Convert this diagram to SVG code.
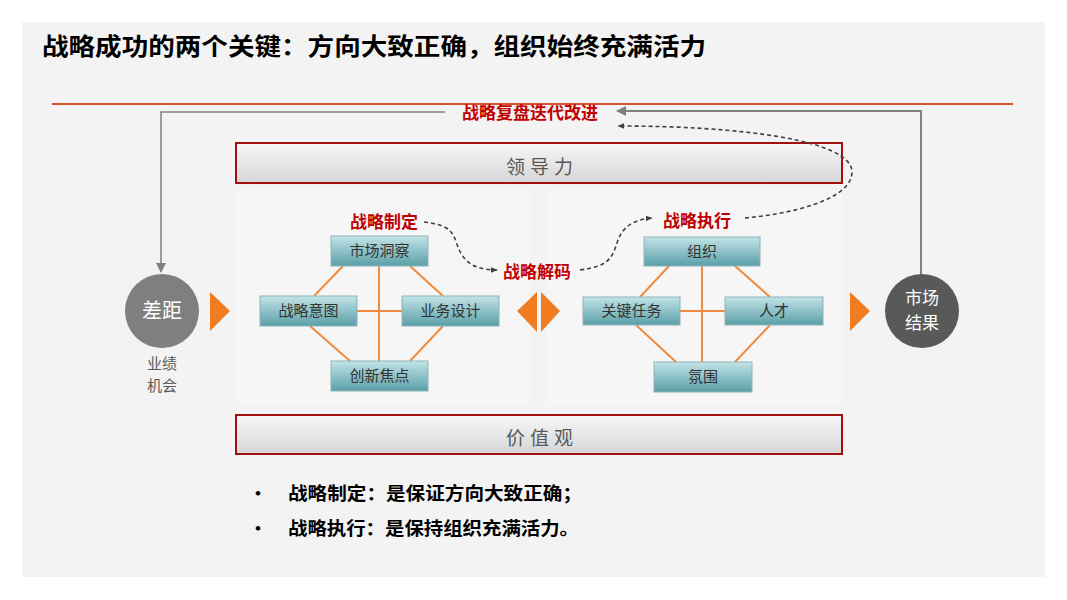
<svg xmlns="http://www.w3.org/2000/svg" width="1067" height="600" viewBox="0 0 1067 600">
<defs>
<linearGradient id="teal" x1="0" y1="0" x2="0" y2="1">
<stop offset="0" stop-color="#c2e4e7"/>
<stop offset="1" stop-color="#5a9fa8"/>
</linearGradient>
<linearGradient id="bar" x1="0" y1="0" x2="0" y2="1">
<stop offset="0" stop-color="#f7f7f7"/>
<stop offset="1" stop-color="#d6d6d6"/>
</linearGradient>
<marker id="ag" viewBox="0 0 10 10" refX="9" refY="5" markerWidth="10" markerHeight="10" markerUnits="userSpaceOnUse" orient="auto">
<path d="M0,0 L10,5 L0,10 z" fill="#808080"/>
</marker>
<marker id="ad" viewBox="0 0 10 10" refX="9" refY="5" markerWidth="7" markerHeight="7" markerUnits="userSpaceOnUse" orient="auto">
<path d="M0,1 L10,5 L0,9 z" fill="#404040"/>
</marker>
<style>
text{font-family:"Noto Sans CJK SC","Noto Sans",sans-serif;}
.box{fill:url(#teal);stroke:#8fb3b7;stroke-width:1;}
.bt{font-size:15px;fill:#333;text-anchor:middle;}
.bar{fill:url(#bar);stroke:#a50e0e;stroke-width:2;}
.bart{font-size:19px;fill:#595959;text-anchor:middle;letter-spacing:5px;}
.red{font-size:17px;font-weight:bold;fill:#c00000;text-anchor:middle;}
.ol{stroke:#f08a3c;stroke-width:2;fill:none;}
.or{fill:#f07c22;}
.gl{stroke:#808080;fill:none;}
.dash{stroke:#404040;stroke-width:1.6;stroke-dasharray:4,3;fill:none;}
.ct{font-size:20px;fill:#fff;text-anchor:middle;}
.ct2{font-size:17px;fill:#fff;text-anchor:middle;}
.bul{font-size:18px;font-weight:bold;fill:#000;}
</style>
</defs>
<rect x="0" y="0" width="1067" height="600" fill="#ffffff"/>
<rect x="22" y="22" width="1023" height="555" fill="#f3f3f3"/>
<text x="42" y="55" font-size="24" font-weight="bold" fill="#000" textLength="664" lengthAdjust="spacingAndGlyphs">战略成功的两个关键：方向大致正确，组织始终充满活力</text>
<line x1="52" y1="104" x2="1013" y2="104" stroke="#d9512f" stroke-width="2"/>
<rect x="236" y="190" width="294" height="215" fill="#f6f6f6"/>
<rect x="547" y="190" width="295" height="215" fill="#f6f6f6"/>
<g id="leadership"><rect class="bar" x="236" y="143" width="606" height="40"/><text class="bart" x="542" y="174">领导力</text></g>
<g id="values"><rect class="bar" x="236" y="415" width="606" height="39"/><text class="bart" x="542" y="445">价值观</text></g>
<g id="connectors">
<path class="gl" stroke-width="1.5" d="M445,112 H161 V272" marker-end="url(#ag)"/>
<path class="gl" stroke-width="2" d="M921,275 V111 H617" marker-end="url(#ag)"/>
<path class="dash" d="M745,218 C790,214 852,200 852,172 C852,140 740,126 618,126" marker-end="url(#ad)"/>
<path class="dash" d="M424,222 C460,226 452,240 462,255 C470,268 485,270 497,270" marker-end="url(#ad)"/>
<path class="dash" d="M580,270 C610,266 612,258 618,240 C624,224 638,219 652,218" marker-end="url(#ad)"/>
<line class="ol" x1="379" y1="266" x2="379" y2="361"/>
<line class="ol" x1="357" y1="311" x2="402" y2="311"/>
<line class="ol" x1="343" y1="266" x2="314" y2="296"/>
<line class="ol" x1="410" y1="266" x2="443" y2="296"/>
<line class="ol" x1="310" y1="326" x2="350" y2="361"/>
<line class="ol" x1="443" y1="326" x2="410" y2="361"/>
<line class="ol" x1="702" y1="266" x2="702" y2="362"/>
<line class="ol" x1="680" y1="311" x2="725" y2="311"/>
<line class="ol" x1="669" y1="266" x2="640" y2="297"/>
<line class="ol" x1="735" y1="266" x2="770" y2="297"/>
<line class="ol" x1="636" y1="325" x2="676" y2="362"/>
<line class="ol" x1="770" y1="325" x2="735" y2="362"/>
</g>
<text class="red" x="530" y="119">战略复盘迭代改进</text>
<text class="red" x="384" y="228">战略制定</text>
<text class="red" x="537" y="278">战略解码</text>
<text class="red" x="697" y="227">战略执行</text>
<g id="n-scdc"><rect class="box" x="331" y="236" width="97" height="30"/><text class="bt" x="379.5" y="256">市场洞察</text></g>
<g id="n-zlyt"><rect class="box" x="260" y="296" width="97" height="30"/><text class="bt" x="308.5" y="316">战略意图</text></g>
<g id="n-ywsj"><rect class="box" x="402" y="296" width="97" height="30"/><text class="bt" x="450.5" y="316">业务设计</text></g>
<g id="n-cxjd"><rect class="box" x="331" y="361" width="97" height="30"/><text class="bt" x="379.5" y="381">创新焦点</text></g>
<g id="n-zz"><rect class="box" x="644" y="237" width="116" height="29"/><text class="bt" x="702" y="257">组织</text></g>
<g id="n-gjrw"><rect class="box" x="583" y="297" width="97" height="28"/><text class="bt" x="631.5" y="316">关键任务</text></g>
<g id="n-rc"><rect class="box" x="725" y="297" width="98" height="28"/><text class="bt" x="774" y="316">人才</text></g>
<g id="n-fw"><rect class="box" x="654" y="362" width="98" height="30"/><text class="bt" x="703" y="382">氛围</text></g>
<g id="n-gap"><circle cx="162" cy="311" r="37" fill="#7f7f7f"/><text class="ct" x="162" y="318">差距</text>
<text x="162" y="369" font-size="15" fill="#595959" text-anchor="middle">业绩</text>
<text x="162" y="391" font-size="15" fill="#595959" text-anchor="middle">机会</text></g>
<g id="n-result"><circle cx="922" cy="311" r="37" fill="#595959"/><text class="ct2" x="922" y="304">市场</text><text class="ct2" x="922" y="329">结果</text></g>
<g id="tri-left"><path class="or" d="M210,292 L230,311 L210,331 z"/></g>
<g id="tri-mid"><path class="or" d="M517,311 L537,292 L537,332 z"/><path class="or" d="M541,292 L560,311 L541,332 z"/></g>
<g id="tri-right"><path class="or" d="M850,292 L870,311 L850,331 z"/></g>
<text class="bul" x="249" y="500">•</text>
<text class="bul" x="288" y="500" textLength="294" lengthAdjust="spacingAndGlyphs">战略制定：是保证方向大致正确；</text>
<text class="bul" x="249" y="535">•</text>
<text class="bul" x="288" y="535" textLength="291" lengthAdjust="spacingAndGlyphs">战略执行：是保持组织充满活力。</text>
</svg>
